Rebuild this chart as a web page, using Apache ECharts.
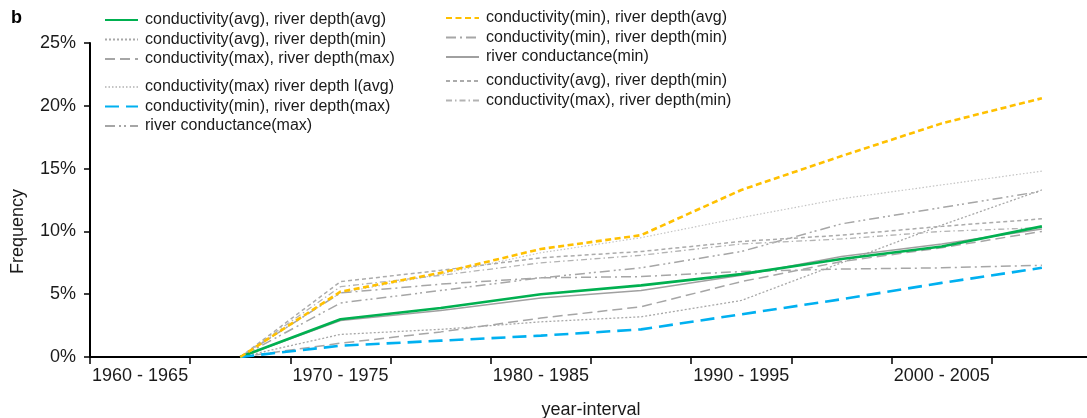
<!DOCTYPE html>
<html>
<head>
<meta charset="utf-8">
<script src="https://cdn.jsdelivr.net/npm/echarts@6/dist/echarts.min.js"></script>
<style>
html,body{margin:0;padding:0;background:#fff;}
#chart{width:1087px;height:418px;}
</style>
</head>
<body>
<div id="chart"></div>
<script>
const categories = ['1960 - 1965','1965 - 1970','1970 - 1975','1975 - 1980','1980 - 1985','1985 - 1990','1990 - 1995','1995 - 2000','2000 - 2005','2005 - 2010'];
const yTicks = [0, 5, 10, 15, 20, 25];

const condAvgDepthAvg   = [null, 0, 3.0, 3.9, 5.0, 5.7, 6.6, 7.8, 8.8, 10.4];
const condAvgDepthMin   = [null, 0, 1.8, 2.2, 2.8, 3.2, 4.5, 7.5, 10.5, 13.3];
const condMaxDepthMax   = [null, 0, 1.1, 2.0, 3.1, 4.0, 6.0, 7.6, 8.7, 10.0];
const condMaxDepthLAvg  = [null, 0, 5.1, 6.6, 8.3, 9.5, 11.1, 12.6, 13.7, 14.8];
const condMinDepthMax   = [null, 0, 0.9, 1.3, 1.7, 2.2, 3.4, 4.6, 5.9, 7.1];
const riverCondMax      = [null, 0, 4.3, 5.3, 6.3, 7.1, 8.4, 10.6, 11.9, 13.2];
const condMinDepthAvg   = [null, 0, 5.2, 6.7, 8.6, 9.7, 13.3, 16.0, 18.6, 20.6];
const condMinDepthMin   = [null, 0, 5.1, 5.8, 6.3, 6.4, 6.8, 7.0, 7.1, 7.3];
const riverCondMin      = [null, 0, 2.9, 3.7, 4.7, 5.3, 6.5, 8.0, 9.0, 10.2];
const condAvgDepthMin2  = [null, 0, 6.0, 6.9, 7.9, 8.4, 9.2, 9.7, 10.4, 11.0];
const condMaxDepthMin   = [null, 0, 5.6, 6.5, 7.5, 8.1, 9.0, 9.4, 10.0, 10.3];

const names = {
  a: 'conductivity(avg), river depth(avg)',
  b: 'conductivity(avg), river depth(min)',
  c: 'conductivity(max), river depth(max)',
  d: 'conductivity(max) river depth l(avg)',
  e: 'conductivity(min), river depth(max)',
  f: 'river conductance(max)',
  g: 'conductivity(min), river depth(avg)',
  h: 'conductivity(min), river depth(min)',
  i: 'river conductance(min)',
  j: 'conductivity(avg), river depth(min) ',
  k: 'conductivity(max), river depth(min)'
};

const FONT = 'Liberation Sans, Arial, sans-serif';

function mk(name, data, color, width, type, z) {
  return {
    name: name, type: 'line', data: data, symbol: 'none', smooth: false,
    connectNulls: false, z: z || 2,
    lineStyle: { color: color, width: width, type: type },
    itemStyle: { color: color }
  };
}

const series = [
  mk(names.d, condMaxDepthLAvg, '#c4c4c4', 1.2, [1.5, 2]),
  mk(names.b, condAvgDepthMin, '#a8a8a8', 1.3, [2, 2]),
  mk(names.c, condMaxDepthMax, '#a6a6a6', 1.5, [10, 5]),
  mk(names.f, riverCondMax, '#a6a6a6', 1.5, [10, 4, 2, 3, 2, 4]),
  mk(names.h, condMinDepthMin, '#a6a6a6', 1.5, [10, 4, 2, 4]),
  mk(names.i, riverCondMin, '#a0a0a0', 1.5, 'solid'),
  mk(names.j, condAvgDepthMin2, '#ababab', 1.5, [4, 3]),
  mk(names.k, condMaxDepthMin, '#b3b3b3', 1.3, [6, 3, 1.5, 3]),
  mk(names.a, condAvgDepthAvg, '#00B050', 2.6, 'solid', 5),
  mk(names.e, condMinDepthMax, '#00B0F0', 2.6, [14, 7], 5),
  mk(names.g, condMinDepthAvg, '#FFC000', 2.6, [6, 3.5], 5)
];

function legend(left, top, data) {
  return {
    orient: 'vertical', left: left, top: top, padding: 0,
    itemWidth: 33, itemHeight: 14, itemGap: 3.5,
    selectedMode: false,
    itemStyle: { opacity: 0 },
    textStyle: { fontFamily: FONT, fontSize: 16, color: '#1a1a1a', padding: [0, 0, 0, 2] },
    data: data
  };
}

const chart = echarts.init(document.getElementById('chart'), null, { renderer: 'canvas' });
chart.setOption({
  backgroundColor: '#ffffff',
  animation: false,
  textStyle: { fontFamily: FONT },
  title: {
    text: 'b', left: 6, top: 4,
    textStyle: { fontFamily: FONT, fontSize: 18, fontWeight: 'bold', color: '#000' }
  },
  graphic: [{
    type: 'text', left: 9, top: 189, rotation: Math.PI / 2,
    style: { text: 'Frequency', fontFamily: FONT, fontSize: 18, fill: '#1a1a1a' }
  }],
  legend: [
    legend(104, 12, [names.a, names.b, names.c]),
    legend(104, 79, [names.d, names.e, names.f]),
    legend(445, 10, [names.g, names.h, names.i]),
    legend(445, 73, [names.j, names.k])
  ],
  grid: { left: 90, right: -5, top: 43, bottom: 61, containLabel: false, outerBoundsMode: 'none' },
  xAxis: {
    type: 'category', data: categories, boundaryGap: true,
    name: 'year-interval', nameLocation: 'middle', nameGap: 44,
    nameTextStyle: { fontFamily: FONT, fontSize: 18, color: '#1a1a1a' },
    axisLine: { lineStyle: { color: '#000', width: 2 } },
    axisTick: { show: true, interval: 0, length: 7, lineStyle: { color: '#000', width: 1.5 } },
    axisLabel: { interval: 1, fontFamily: FONT, fontSize: 18, color: '#1a1a1a', margin: 10 },
    splitLine: { show: false }
  },
  yAxis: {
    type: 'value', min: yTicks[0], max: yTicks[yTicks.length - 1], interval: 5,
    axisLine: { show: true, lineStyle: { color: '#000', width: 2 } },
    axisTick: { show: true, length: 6, lineStyle: { color: '#000', width: 1.5 } },
    axisLabel: { formatter: '{value}%', fontFamily: FONT, fontSize: 18, color: '#1a1a1a', margin: 14 },
    splitLine: { show: false }
  },
  series: series
});
</script>
</body>
</html>
